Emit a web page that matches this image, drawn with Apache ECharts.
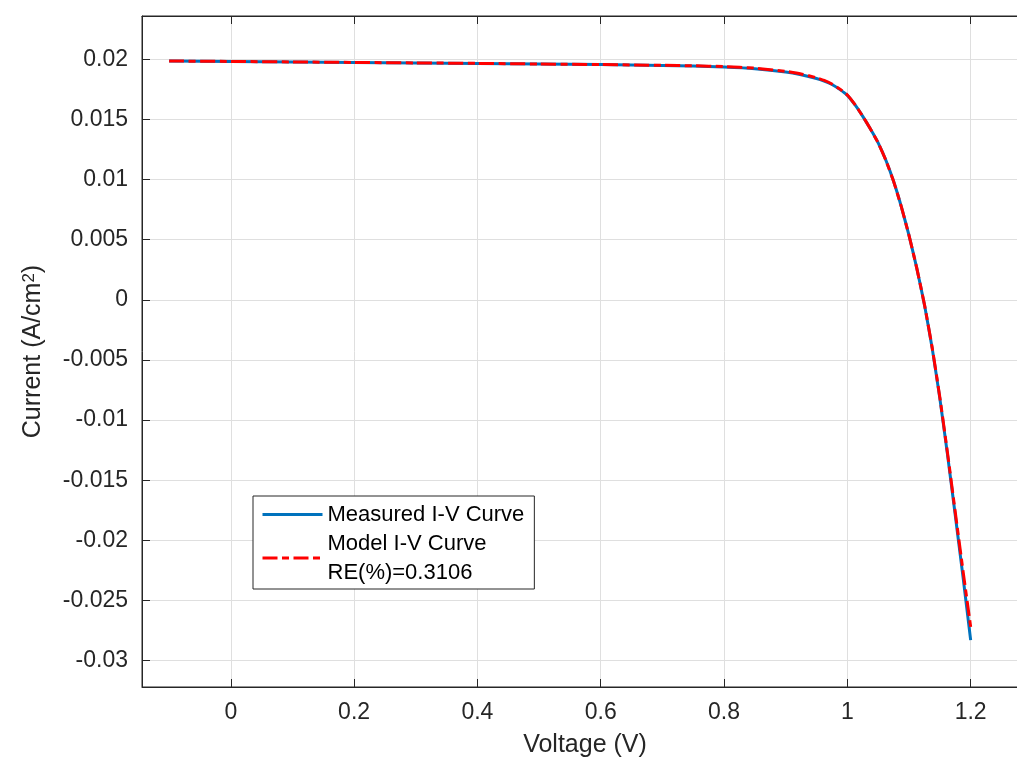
<!DOCTYPE html>
<html>
<head>
<meta charset="utf-8">
<script src="https://cdn.jsdelivr.net/npm/echarts/dist/echarts.min.js"></script>
<style>
    html, body { margin: 0; padding: 0; background: #fff; overflow: hidden; }
    /* 图表比窗口略宽，右边框落在画面外 */
    #chart { width: 1028px; height: 766px; }
</style>
</head>
<body>
<div id="chart"></div>
<script>
// 电压 (V)
const voltage = [-0.1, 0, 0.1, 0.2, 0.3, 0.4, 0.5, 0.6, 0.7, 0.75, 0.8, 0.85, 0.9, 0.925, 0.95, 0.9625, 0.975, 0.9875,
    1.0, 1.0125, 1.025, 1.0375, 1.05, 1.0625, 1.075, 1.0875, 1.1, 1.1125, 1.125, 1.1375, 1.15, 1.1625, 1.175, 1.1875, 1.2];

// 实测电流 (A/cm2)
const measuredCurrent = [0.01986, 0.01982, 0.01978, 0.01974, 0.01970, 0.01966, 0.01961, 0.01956, 0.01949, 0.01944, 0.01936, 0.01922, 0.01895, 0.01872, 0.01840, 0.01818, 0.01790, 0.01750,
    0.01700, 0.01620, 0.01525, 0.01420, 0.01305, 0.01160, 0.00985, 0.00775, 0.00535, 0.00265, -0.00040, -0.00400, -0.00820, -0.01290, -0.01790, -0.02300, -0.02830];

// 模型电流 (A/cm2)
const modelCurrent = [0.01986, 0.01982, 0.01978, 0.01974, 0.01970, 0.01966, 0.01961, 0.01956, 0.01950, 0.01946, 0.01939, 0.01926, 0.01900, 0.01878, 0.01846, 0.01824, 0.01795, 0.01754,
    0.01703, 0.01622, 0.01526, 0.01420, 0.01305, 0.01160, 0.00985, 0.00775, 0.00535, 0.00265, -0.00038, -0.00395, -0.00810, -0.01275, -0.01765, -0.02250, -0.02720];

const xTicks = [0, 0.2, 0.4, 0.6, 0.8, 1, 1.2];
const yTicks = [-0.03, -0.025, -0.02, -0.015, -0.01, -0.005, 0, 0.005, 0.01, 0.015, 0.02];

const measuredName = 'Measured I-V Curve';
const modelName = 'Model I-V Curve\nRE(%)=0.3106';

const FONT = '"Liberation Sans", Arial, Helvetica, sans-serif';
const AXIS_COLOR = '#262626';
const GRID_COLOR = '#dfdfdf';

const chart = echarts.init(document.getElementById('chart'));

const tickLabel = (v) => String(+v.toFixed(4));

const option = {
    animation: false,
    grid: {
        left: 142,
        top: 16,
        right: 0,
        bottom: 79,
        show: true,
        borderColor: AXIS_COLOR,
        borderWidth: 1,
        containLabel: false
    },
    legend: {
        orient: 'vertical',
        left: 253,
        top: 496,
        padding: [4, 10, 2, 8],
        itemGap: 0,
        itemWidth: 60,
        itemHeight: 14,
        icon: 'inherit',
        itemStyle: { opacity: 0 },      // 图例只画线，不画圆点
        lineStyle: { width: 3 },
        backgroundColor: '#fff',
        borderColor: AXIS_COLOR,
        borderWidth: 1,
        borderRadius: 0,
        textStyle: {
            fontFamily: FONT,
            fontSize: 22,
            color: '#000',
            lineHeight: 29
        },
        data: [measuredName, modelName]
    },
    xAxis: [
        {
            type: 'value',
            min: -0.144,
            max: 1.293,
            name: 'Voltage (V)',
            nameLocation: 'middle',
            nameGap: 46,
            nameTextStyle: { fontFamily: FONT, fontSize: 25, color: AXIS_COLOR },
            axisLine: { show: true, onZero: false, lineStyle: { color: AXIS_COLOR, width: 1 } },
            axisTick: { show: true, inside: true, length: 8, customValues: xTicks, lineStyle: { color: AXIS_COLOR } },
            axisLabel: { customValues: xTicks, margin: 14, fontFamily: FONT, fontSize: 23, color: AXIS_COLOR, formatter: tickLabel },
            splitLine: { show: true, lineStyle: { color: GRID_COLOR, width: 1 } }
        },
        {
            type: 'value',
            position: 'top',
            min: -0.144,
            max: 1.293,
            axisLine: { show: true, onZero: false, lineStyle: { color: AXIS_COLOR, width: 1 } },
            axisTick: { show: true, inside: true, length: 8, customValues: xTicks, lineStyle: { color: AXIS_COLOR } },
            axisLabel: { show: false },
            splitLine: { show: false }
        }
    ],
    yAxis: {
        type: 'value',
        min: -0.0322,
        max: 0.0236,
        name: '{n|Current (A/cm}{s|2}{n|)}',
        nameLocation: 'middle',
        nameGap: 96,
        nameTextStyle: {
            fontFamily: FONT,
            color: AXIS_COLOR,
            rich: {
                n: { fontFamily: FONT, fontSize: 25, color: AXIS_COLOR },
                s: { fontFamily: FONT, fontSize: 17, color: AXIS_COLOR, verticalAlign: 'top', padding: [0, 0, 6, 0] }
            }
        },
        axisLine: { show: true, onZero: false, lineStyle: { color: AXIS_COLOR, width: 1 } },
        axisTick: { show: true, inside: true, length: 8, customValues: yTicks, lineStyle: { color: AXIS_COLOR } },
        axisLabel: { customValues: yTicks, margin: 14, fontFamily: FONT, fontSize: 23, color: AXIS_COLOR, formatter: tickLabel },
        splitLine: { show: true, lineStyle: { color: GRID_COLOR, width: 1 } }
    },
    series: [
        {
            name: measuredName,
            type: 'line',
            symbol: 'none',
            smooth: 0.15,
            data: voltage.map((v, i) => [v, measuredCurrent[i]]),
            lineStyle: { color: '#0072BD', width: 3 },
            itemStyle: { color: '#0072BD' },
            z: 2
        },
        {
            name: modelName,
            type: 'line',
            symbol: 'none',
            smooth: 0.15,
            data: voltage.map((v, i) => [v, modelCurrent[i]]),
            lineStyle: { color: '#FF0000', width: 3, type: [15, 4.5, 7, 4.5], cap: 'butt' },
            itemStyle: { color: '#FF0000' },
            z: 3
        }
    ]
};

chart.setOption(option);
</script>
</body>
</html>
